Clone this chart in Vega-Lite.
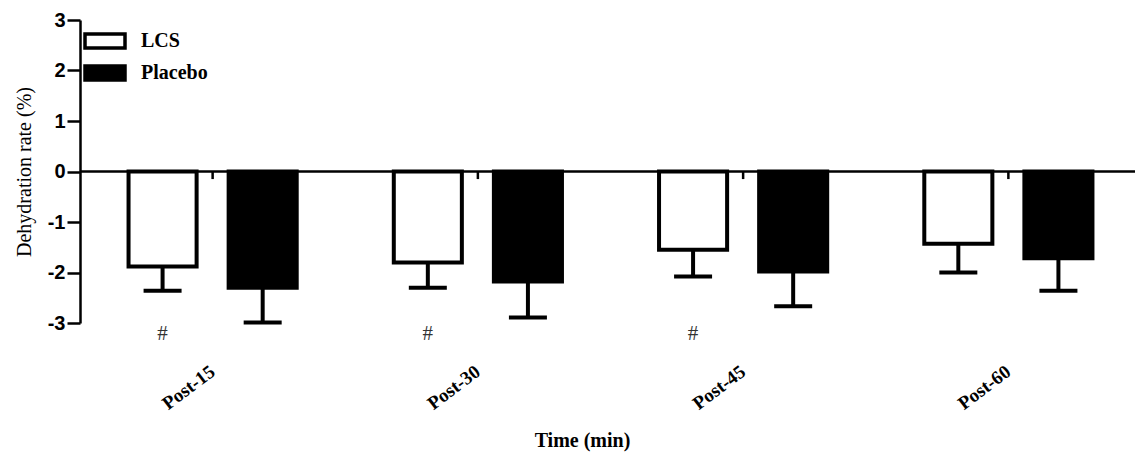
{
  "$schema": "https://vega.github.io/schema/vega-lite/v6.json",
  "autosize": {"type": "none"},
  "width": 1055,
  "height": 303,
  "padding": {"left": 80, "top": 20, "right": 0, "bottom": 131},
  "background": "white",
  "config": {"view": {"stroke": null}},
  "data": {
    "values": [
      {"time": "Post-15", "group": "LCS", "mean": -1.88, "lower": -2.36, "sig": "#"},
      {"time": "Post-15", "group": "Placebo", "mean": -2.3, "lower": -2.99, "sig": ""},
      {"time": "Post-30", "group": "LCS", "mean": -1.8, "lower": -2.3, "sig": "#"},
      {"time": "Post-30", "group": "Placebo", "mean": -2.18, "lower": -2.89, "sig": ""},
      {"time": "Post-45", "group": "LCS", "mean": -1.55, "lower": -2.08, "sig": "#"},
      {"time": "Post-45", "group": "Placebo", "mean": -1.98, "lower": -2.67, "sig": ""},
      {"time": "Post-60", "group": "LCS", "mean": -1.43, "lower": -2.0, "sig": ""},
      {"time": "Post-60", "group": "Placebo", "mean": -1.72, "lower": -2.36, "sig": ""}
    ]
  },
  "encoding": {
    "x": {
      "field": "time",
      "type": "nominal",
      "sort": null,
      "scale": {"paddingInner": 0, "paddingOuter": 0, "range": [0, 1061]},
      "axis": {
        "title": "Time (min)",
        "titleFont": "Liberation Serif",
        "titleFontWeight": "bold",
        "titleFontSize": 20,
        "titleColor": "black",
        "titleX": 502,
        "titleY": 117,
        "titleBaseline": "middle",
        "domain": false,
        "ticks": false,
        "labelAngle": -37,
        "labelAlign": "right",
        "labelBaseline": "middle",
        "labelPadding": 46,
        "labelFont": "Liberation Serif",
        "labelFontWeight": "bold",
        "labelFontSize": 19,
        "labelColor": "black"
      }
    }
  },
  "layer": [
    {
      "mark": {"type": "bar", "stroke": "black", "strokeWidth": 4, "strokeJoin": "miter"},
      "encoding": {
        "xOffset": {"field": "group", "type": "nominal", "scale": {"paddingInner": 0.32, "paddingOuter": 0.485}},
        "y": {
          "field": "mean",
          "type": "quantitative",
          "scale": {"domain": [-3, 3], "nice": false, "zero": false},
          "axis": {
            "title": "Dehydration rate (%)",
            "titleFont": "Liberation Serif",
            "titleFontWeight": "normal",
            "titleFontSize": 20,
            "titleColor": "black",
            "titlePadding": 13,
            "values": [-3, -2, -1, 0, 1, 2, 3],
            "labelExpr": "replace(datum.label, '−', '-')",
            "grid": false,
            "domainColor": "black",
            "domainWidth": 2.5,
            "tickColor": "black",
            "tickWidth": 2.5,
            "tickSize": 13,
            "labelFont": "Liberation Sans",
            "labelFontWeight": "bold",
            "labelFontSize": 20,
            "labelColor": "black",
            "labelPadding": 2
          }
        },
        "y2": {"datum": 0},
        "fill": {
          "field": "group",
          "type": "nominal",
          "scale": {"domain": ["LCS", "Placebo"], "range": ["white", "black"]},
          "legend": {
            "title": null,
            "orient": "none",
            "legendX": 13,
            "legendY": 9,
            "padding": 0,
            "symbolType": "M-2,-0.7H2V0.7H-2Z",
            "symbolSize": 400,
            "symbolStrokeColor": "black",
            "symbolStrokeWidth": 3.5,
            "labelFont": "Liberation Serif",
            "labelFontWeight": "bold",
            "labelFontSize": 20,
            "labelColor": "black",
            "labelOffset": 24,
            "rowPadding": 4
          }
        }
      }
    },
    {
      "mark": {"type": "rule", "color": "black", "strokeWidth": 4},
      "encoding": {
        "xOffset": {"field": "group", "type": "nominal", "scale": {"paddingInner": 0.32, "paddingOuter": 0.485}},
        "y": {"field": "mean", "type": "quantitative"},
        "y2": {"field": "lower"}
      }
    },
    {
      "mark": {"type": "tick", "color": "black", "thickness": 4, "size": 38, "opacity": 1},
      "encoding": {
        "xOffset": {"field": "group", "type": "nominal", "scale": {"paddingInner": 0.32, "paddingOuter": 0.485}},
        "y": {"field": "lower", "type": "quantitative"}
      }
    },
    {
      "mark": {"type": "text", "font": "Liberation Serif", "fontSize": 21, "color": "#333333"},
      "encoding": {
        "xOffset": {"field": "group", "type": "nominal", "scale": {"paddingInner": 0.32, "paddingOuter": 0.485}},
        "y": {"datum": -3.22},
        "text": {"field": "sig"}
      }
    },
    {
      "transform": [{"filter": "datum.group === 'LCS'"}],
      "mark": {"type": "rule", "color": "black", "strokeWidth": 2.5},
      "encoding": {
        "y": {"datum": 0},
        "y2": {"datum": -0.15}
      }
    },
    {
      "data": {"values": [{"zero": 0}]},
      "mark": {"type": "rule", "color": "black", "strokeWidth": 2.5},
      "encoding": {
        "x": null,
        "y": {"field": "zero", "type": "quantitative"}
      }
    }
  ]
}
